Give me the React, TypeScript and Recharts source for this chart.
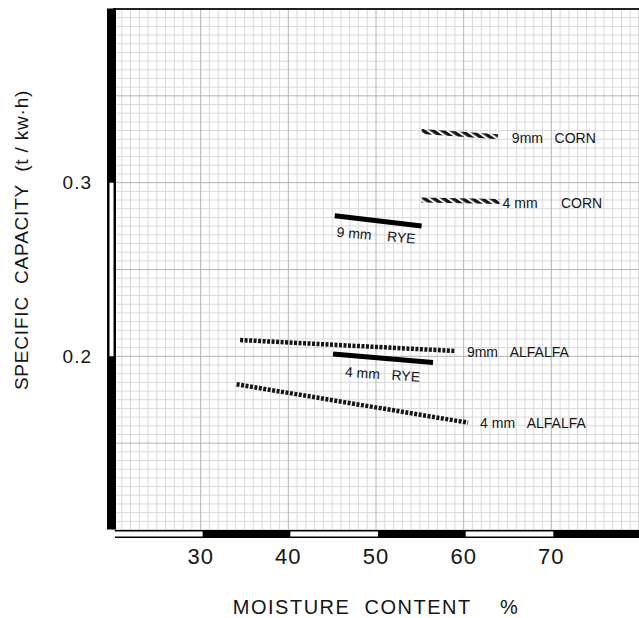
import { LineChart, Line, XAxis, YAxis, ReferenceLine, Label } from "recharts";

const FONT = "'Liberation Sans', Arial, Helvetica, sans-serif";
const INK = "#151515";

// axis ticks
const xTicks = [30, 40, 50, 60, 70];
const yTicks = [0.2, 0.3];

// graph paper: one line per moisture % and per 0.005 t/kw·h
const gridX = Array.from({ length: 61 }, (_, i) => 20 + i);
const gridY = Array.from({ length: 61 }, (_, i) => Math.round((0.1 + i * 0.005) * 1000) / 1000);

// white gaps of the chequered moisture scale bar
const scaleGaps = [
  [20, 30],
  [40, 50],
  [60, 70],
];

// measured runs (moisture %, specific capacity t/kw·h)
const corn9mm = [
  { moisture: 55.2, capacity: 0.3294 },
  { moisture: 63.9, capacity: 0.3265 },
];
const corn4mm = [
  { moisture: 55.2, capacity: 0.29 },
  { moisture: 64.1, capacity: 0.2891 },
];
const rye9mm = [
  { moisture: 45.3, capacity: 0.281 },
  { moisture: 55.2, capacity: 0.2751 },
];
const alfalfa9mm = [
  { moisture: 34.5, capacity: 0.2094 },
  { moisture: 59.0, capacity: 0.2031 },
];
const rye4mm = [
  { moisture: 45.1, capacity: 0.2014 },
  { moisture: 56.5, capacity: 0.1964 },
];
const alfalfa4mm = [
  { moisture: 34.1, capacity: 0.1839 },
  { moisture: 60.5, capacity: 0.1618 },
];

const sp = (n: number) => "\u00a0".repeat(n);

// text tag attached to one end of a run
function tag(text: string, at: number, dx: number, dy: number, angle = 0) {
  return (p: any) => {
    if (p.index !== at) return null;
    const x = p.x + dx;
    const y = p.y + dy;
    return (
      <text
        x={x}
        y={y}
        fontFamily={FONT}
        fontSize={14}
        fill={INK}
        dominantBaseline="central"
        transform={angle ? `rotate(${angle} ${x} ${y})` : undefined}
      >
        {text}
      </text>
    );
  };
}

export default function App() {
  return (
    <div style={{ position: "absolute", left: 0, top: 0, width: 639, height: 618, background: "#fff" }}>
      <LineChart width={639} height={618} margin={{ top: 9, right: 0, bottom: 0, left: 13 }}>
        <defs>
          <pattern
            id="cornHatch"
            patternUnits="userSpaceOnUse"
            width="10"
            height="5.5"
            patternTransform="rotate(35)"
          >
            <rect x="0" y="0" width="10" height="3.4" fill={INK} />
          </pattern>
        </defs>

        <XAxis
          type="number"
          dataKey="moisture"
          domain={[20, 80]}
          ticks={xTicks}
          allowDataOverflow
          height={88}
          tickLine={false}
          tickSize={0}
          tickMargin={18}
          axisLine={false}
          tick={{ fontSize: 22, fill: INK, fontFamily: FONT, letterSpacing: 1 }}
        >
          <Label
            content={(p: any) => {
              const vb = p.viewBox;
              return (
                <text
                  x={vb.x + vb.width / 2}
                  y={vb.y + 77}
                  textAnchor="middle"
                  dominantBaseline="central"
                  fontFamily={FONT}
                  fontSize={20}
                  letterSpacing={1.5}
                  fill={INK}
                >
                  {`MOISTURE${sp(2)}CONTENT${sp(4)}%`}
                </text>
              );
            }}
          />
        </XAxis>
        <YAxis
          type="number"
          dataKey="capacity"
          domain={[0.1, 0.4]}
          ticks={yTicks}
          allowDataOverflow
          width={100}
          tickLine={false}
          tickSize={0}
          tickMargin={21}
          tickFormatter={(v: number) => v.toFixed(1)}
          axisLine={false}
          tick={{ fontSize: 19, fill: INK, fontFamily: FONT, letterSpacing: 1 }}
        >
          <Label
            content={(p: any) => {
              const vb = p.viewBox;
              const cx = vb.x + 8;
              const cy = vb.y + 231;
              return (
                <text
                  x={cx}
                  y={cy}
                  transform={`rotate(-90 ${cx} ${cy})`}
                  textAnchor="middle"
                  dominantBaseline="central"
                  fontFamily={FONT}
                  fontSize={19}
                  letterSpacing={0.8}
                  fill={INK}
                >
                  {`SPECIFIC${sp(2)}CAPACITY${sp(2)}(t / kw·h)`}
                </text>
              );
            }}
          />
        </YAxis>

        {gridX.map((v, i) =>
          i % 10 ? <ReferenceLine key={"gx" + v} x={v} stroke="#d9d9d9" strokeWidth={1} /> : null
        )}
        {gridY.map((v, i) =>
          i % 10 ? <ReferenceLine key={"gy" + v} y={v} stroke="#d9d9d9" strokeWidth={1} /> : null
        )}
        {gridX.map((v, i) =>
          i % 10 ? null : <ReferenceLine key={"mx" + v} x={v} stroke="#b4b4b4" strokeWidth={1} />
        )}
        {gridY.map((v, i) =>
          i % 10 ? null : <ReferenceLine key={"my" + v} y={v} stroke="#b4b4b4" strokeWidth={1} />
        )}
        <ReferenceLine y={0.4} stroke="#222" strokeWidth={2} />

        {/* chequered scale bars */}
        <ReferenceLine
          segment={[
            { x: 20, y: 0.1 },
            { x: 80, y: 0.1 },
          ]}
          stroke="#000"
          strokeWidth={8}
          transform="translate(2 4)"
        />
        {scaleGaps.map(([a, b]) => (
          <ReferenceLine
            key={"gap" + a}
            segment={[
              { x: a, y: 0.1 },
              { x: b, y: 0.1 },
            ]}
            stroke="#fff"
            strokeWidth={5}
            transform="translate(2 4)"
          />
        ))}
        <ReferenceLine
          segment={[
            { x: 20, y: 0.1 },
            { x: 20, y: 0.4 },
          ]}
          stroke="#000"
          strokeWidth={9}
          transform="translate(-1.5 -0.5)"
        />
        <ReferenceLine
          segment={[
            { x: 20, y: 0.2 },
            { x: 20, y: 0.3 },
          ]}
          stroke="#fff"
          strokeWidth={4}
          transform="translate(-1.5 0)"
        />

        <Line
          data={corn9mm}
          dataKey="capacity"
          stroke="url(#cornHatch)"
          strokeWidth={5}
          dot={false}
          activeDot={false}
          isAnimationActive={false}
          label={tag(`9mm${sp(3)}CORN`, 1, 14, 1.3)}
        />
        <Line
          data={corn4mm}
          dataKey="capacity"
          stroke="url(#cornHatch)"
          strokeWidth={5}
          dot={false}
          activeDot={false}
          isAnimationActive={false}
          label={tag(`4 mm${sp(6)}CORN`, 1, 3, 1.3)}
        />
        <Line
          data={rye9mm}
          dataKey="capacity"
          stroke="#000"
          strokeWidth={5}
          dot={false}
          activeDot={false}
          isAnimationActive={false}
          label={tag(`9 mm${sp(4)}RYE`, 0, 2, 16, 5)}
        />
        <Line
          data={alfalfa9mm}
          dataKey="capacity"
          stroke={INK}
          strokeWidth={4.5}
          strokeDasharray="3 1.5"
          dot={false}
          activeDot={false}
          isAnimationActive={false}
          label={tag(`9mm${sp(3)}ALFALFA`, 1, 12, 0.7)}
        />
        <Line
          data={rye4mm}
          dataKey="capacity"
          stroke="#000"
          strokeWidth={5}
          dot={false}
          activeDot={false}
          isAnimationActive={false}
          label={tag(`4 mm${sp(3)}RYE`, 0, 12, 17.7, 4)}
        />
        <Line
          data={alfalfa4mm}
          dataKey="capacity"
          stroke={INK}
          strokeWidth={4.5}
          strokeDasharray="3 1.5"
          dot={false}
          activeDot={false}
          isAnimationActive={false}
          label={tag(`4 mm${sp(3)}ALFALFA`, 1, 12, 0.6)}
        />
      </LineChart>
    </div>
  );
}
